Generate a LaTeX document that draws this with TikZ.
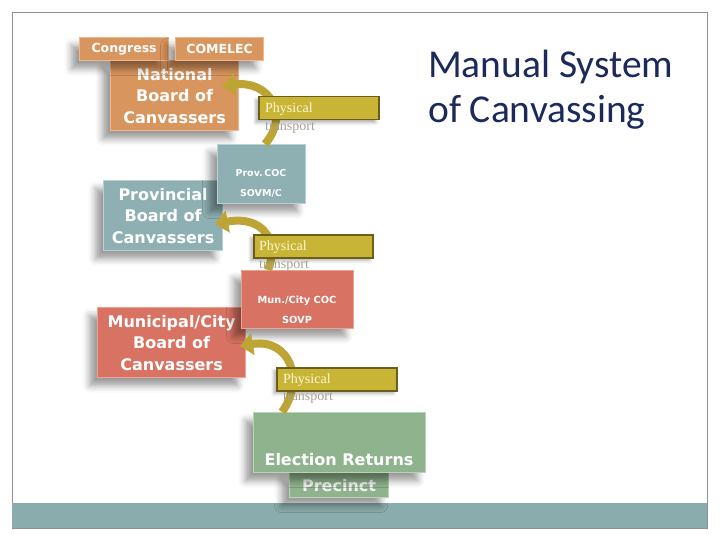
\documentclass[tikz,border=0pt]{standalone}
\usepackage{fontspec}
\setmainfont{DejaVu Sans}
\newfontfamily\physfont{Liberation Serif}
\newfontfamily\titlefont{Carlito}
\usetikzlibrary{arrows.meta,shadows.blur}
\definecolor{orfill}{HTML}{D9955E}
\definecolor{orline}{HTML}{F0B88A}
\definecolor{tefill}{HTML}{8FB0B2}
\definecolor{teline}{HTML}{B9D1D3}
\definecolor{safill}{HTML}{D87262}
\definecolor{saline}{HTML}{F0A292}
\definecolor{grfill}{HTML}{8FB48D}
\definecolor{grline}{HTML}{B8D4B5}
\definecolor{olfill}{HTML}{C9B535}
\definecolor{oldark}{HTML}{6B5E1A}
\definecolor{arrowc}{HTML}{BCA534}
\definecolor{cream}{HTML}{FFF6D8}
\definecolor{transc}{HTML}{A7A291}
\definecolor{bandc}{HTML}{8AACAC}
\definecolor{framec}{HTML}{8C9294}
\definecolor{titlec}{HTML}{1B2A5A}
\begin{document}
\begin{tikzpicture}[x=1pt,y=-1pt,
  box/.style={rectangle, inner sep=0pt, anchor=north west, line width=1.2pt,
    text=white, align=center,
    blur shadow={shadow xshift=-8pt, shadow yshift=-8pt, shadow blur radius=7pt, shadow opacity=40}},
  bigtext/.style={font=\bfseries\fontsize{16}{21.5}\selectfont},
  tabtext/.style={font=\bfseries\fontsize{12.5}{14}\selectfont},
  smalltext/.style={inner sep=0pt, text=white, align=center, font=\bfseries\fontsize{9.5}{20}\selectfont},
  physbox/.style={rectangle, inner sep=0pt, anchor=north west, fill=olfill, draw=oldark,
    line width=1.5pt, minimum width=120pt, minimum height=23pt,
    blur shadow={shadow xshift=-3pt, shadow yshift=-3pt, shadow blur radius=3pt, shadow opacity=30}},
  phystext/.style={anchor=base west, inner sep=0pt, text=cream, font=\physfont\fontsize{14}{16}\selectfont},
  transtext/.style={phystext, text=transc},
  curved/.style={draw=arrowc, line width=8pt, -{Triangle[length=13pt,width=22pt]}}
]
\useasboundingbox (0,0) rectangle (720,540);
% slide frame and band
\draw[framec, line width=0.8pt] (12,12) rectangle (707,528);
\fill[bandc] (12,503) rectangle (707,528);

% national level
\node[box, fill=orfill, draw=orline, minimum width=128pt, minimum height=70pt, bigtext] (nat) at (110,60) {National\\Board of\\Canvassers};
\node[box, fill=orfill, draw=orline, minimum width=89pt, minimum height=23pt, tabtext] (congress) at (79,37) {Congress};
\node[box, fill=orfill, draw=orline, minimum width=88pt, minimum height=23pt, tabtext] (comelec) at (175,37) {COMELEC};

% provincial level
\node[box, fill=tefill, draw=teline, minimum width=119pt, minimum height=70pt, bigtext] (prov) at (103,180) {Provincial\\Board of\\Canvassers};
\node[box, fill=tefill, draw=teline, minimum width=88pt, minimum height=59pt] (provcoc) at (217,144) {};
\node[smalltext] (provcocT) at (261,183) {Prov.\,COC\\SOVM/C};

% municipal level
\node[box, fill=safill, draw=saline, minimum width=148pt, minimum height=70pt, bigtext] (mun) at (97,307) {Municipal/City\\Board of\\Canvassers};
\node[box, fill=safill, draw=saline, minimum width=112pt, minimum height=58pt] (muncoc) at (241,270) {};
\node[smalltext, font=\bfseries\fontsize{9.8}{20}\selectfont] (muncocT) at (297,310) {Mun./City COC\\SOVP};

% precinct level
\node[box, fill=grfill, draw=grline, minimum width=99pt, minimum height=25pt, bigtext, text=white!90!gray] (prec) at (289,472) {Precinct};
\node[box, fill=grfill, draw=grline, minimum width=172pt, minimum height=60pt] (er) at (253,412) {};
\node[inner sep=0pt, text=white, bigtext] (erT) at (339,460) {Election Returns};

% curved arrows
\coordinate (a1s) at (265,144);
\coordinate (a1e) at (222,86);
\coordinate (a2s) at (268,270);
\coordinate (a2e) at (215,224);
\coordinate (a3s) at (282,412);
\coordinate (a3e) at (240,346);
\draw[curved] (a1s) .. controls (290,115) and (270,80) .. (a1e);
\draw[curved] (a2s) .. controls (280,240) and (262,215) .. (a2e);
\draw[curved] (a3s) .. controls (305,380) and (290,338) .. (a3e);

% physical transport labels
\node[physbox] (ph1) at (258,96) {};
\node[phystext] (ph1a) at (265,113) {Physical};
\node[transtext] (ph1b) at (265,131) {transport};
\node[physbox, minimum width=119pt] (ph2) at (253,234) {};
\node[phystext] (ph2a) at (259,251) {Physical};
\node[transtext] (ph2b) at (259,268) {transport};
\node[physbox] (ph3) at (276,367) {};
\node[phystext] (ph3a) at (283,383) {Physical};
\node[transtext] (ph3b) at (283,400) {transport};

% title
\node[anchor=base west, inner sep=0pt, text=titlec, font=\titlefont\fontsize{39.5}{46}\selectfont] (title1) at (428,78) {Manual System};
\node[anchor=base west, inner sep=0pt, text=titlec, font=\titlefont\fontsize{39.5}{46}\selectfont] (title2) at (428,123) {of Canvassing};
\end{tikzpicture}
\end{document}
